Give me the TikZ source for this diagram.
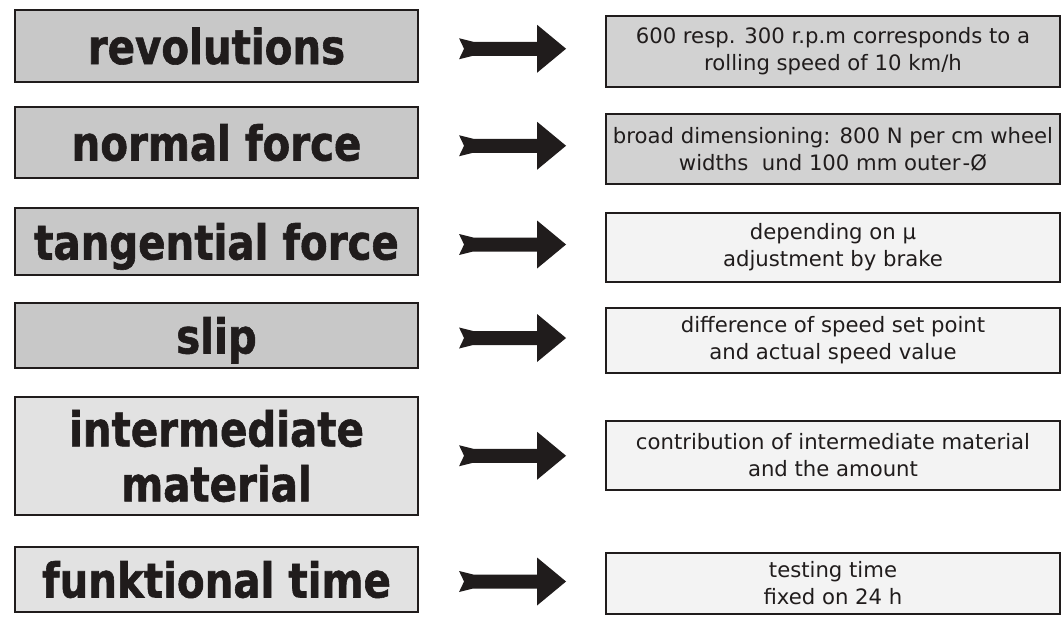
\documentclass[tikz,border=0pt]{standalone}
\usepackage{fontspec}
\usetikzlibrary{calc}
\newfontfamily\leftfont[FakeStretch=0.84,FakeBold=1.2]{DejaVu Sans Bold}
\newfontfamily\rightfont{DejaVu Sans}
\definecolor{darkgrey}{RGB}{200,200,200}
\definecolor{lightgrey}{RGB}{226,226,226}
\definecolor{rgrey}{RGB}{210,210,210}
\definecolor{rlight}{RGB}{243,243,243}
\definecolor{ink}{RGB}{32,28,28}
\begin{document}
\begin{tikzpicture}[x=1pt,y=-1pt,
  lbox/.style={draw=ink, line width=1.6pt, inner sep=0pt, minimum width=403pt,
    font=\leftfont\fontsize{48}{55}\selectfont, text=ink, align=center},
  lone/.style={text height=36pt, text depth=0pt},
  rbox/.style={draw=ink, line width=1.4pt, inner sep=0pt, minimum width=454pt,
    font=\rightfont\fontsize{21.2}{27}\selectfont, text=ink, align=center},
  fatarr/.pic={\fill[ink] (-53,-10.5) -- (-39,-7) -- (25,-7) -- (25,-24) -- (54,0)
     -- (25,24) -- (25,7) -- (-39,7) -- (-53,10.5) -- (-48,0) -- cycle;}
]
\useasboundingbox (0,0) rectangle (1063,616);

% left boxes
\node[lbox, lone, fill=darkgrey, minimum height=72pt] (l1) at (216.5,46) {revolutions};
\node[lbox, lone, fill=darkgrey, minimum height=71pt] (l2) at (216.5,142.5) {normal force};
\node[lbox, lone, fill=darkgrey, minimum height=67pt] (l3) at (216.5,241.5) {tangential force};
\node[lbox, lone, fill=darkgrey, minimum height=65pt] (l4) at (216.5,335.5) {slip};
\node[lbox, fill=lightgrey, minimum height=118pt] (l5) at (216.5,456) {intermediate\\material};
\node[lbox, lone, fill=lightgrey, minimum height=65pt] (l6) at (216.5,579.5) {funktional time};

% right boxes
\node[rbox, fill=rgrey, minimum height=71pt] (r1) at (833,51.5) {600 resp. 300 r.p.m corresponds to a\\rolling speed of 10 km/h};
\node[rbox, fill=rgrey, minimum height=70pt] (r2) at (833,149) {broad dimensioning: 800 N per cm wheel\\widths\ \ und 100 mm outer\kern2pt-Ø};
\node[rbox, fill=rlight, minimum height=69pt] (r3) at (833,247.5) {depending on μ\\adjustment by brake};
\node[rbox, fill=rlight, minimum height=65pt] (r4) at (833,340.5) {difference of speed set point\\and actual speed value};
\node[rbox, fill=rlight, minimum height=69pt] (r5) at (833,455.5) {contribution of intermediate material\\and the amount};
\node[rbox, fill=rlight, minimum height=61pt] (r6) at (833,583.5) {testing time\\fixed on 24 h};

% arrows
\foreach \i in {1,...,6}{
  \pic at ($(l\i.east)!0.5!(r\i.west)$) {fatarr};
}
\end{tikzpicture}
\end{document}
